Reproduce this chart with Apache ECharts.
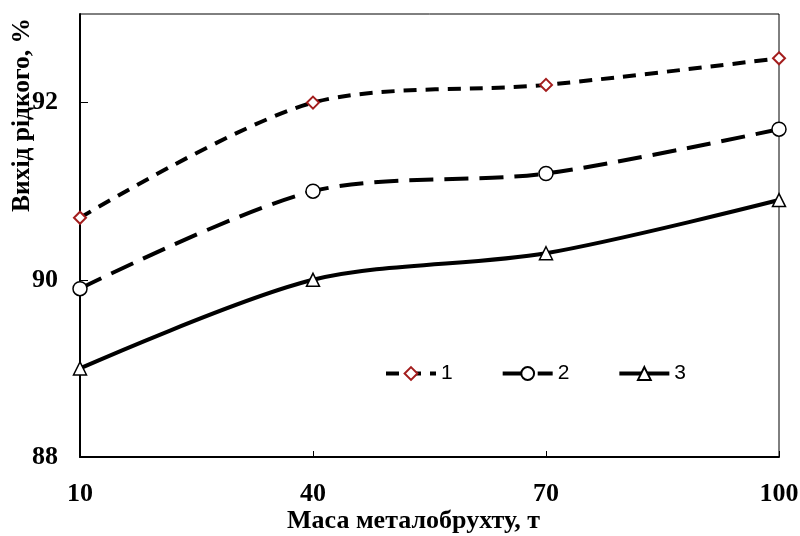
<!DOCTYPE html>
<html>
<head>
<meta charset="utf-8">
<script src="https://cdn.jsdelivr.net/npm/echarts@6/dist/echarts.min.js"></script>
<style>html,body{margin:0;padding:0;background:#fff}#c{width:800px;height:536px}</style>
</head>
<body>
<div id="c"></div>
<script>
var xValues = [10, 40, 70, 100];
var series1 = [90.7, 92.0, 92.2, 92.5];
var series2 = [89.9, 91.0, 91.2, 91.7];
var series3 = [89.0, 90.0, 90.3, 90.9];
var seriesNames = ['1', '2', '3'];
var yTickLabels = [88, 90, 92];
var xTickLabels = [10, 40, 70, 100];

function pairs(vals) { return xValues.map(function (x, i) { return [x, vals[i]]; }); }

var chart = echarts.init(document.getElementById('c'), null, {renderer: 'canvas'});
var serif = '"Liberation Serif", "Times New Roman", serif';
var dash1 = [13, 9], dash2 = [24, 11];
chart.setOption({
  animation: false,
  backgroundColor: '#fff',
  grid: {left: 80, right: 21, top: 14, bottom: 79, show: true, borderColor: '#000', borderWidth: 1,
         containLabel: false, outerBoundsMode: 'none'},
  xAxis: {
    type: 'value', min: 10, max: 100, interval: 30,
    axisLine: {show: true, lineStyle: {color: '#000', width: 2}},
    axisTick: {show: true, inside: true, length: 6, lineStyle: {color: '#000', width: 1}, customValues: xTickLabels},
    splitLine: {show: false},
    axisLabel: {
      margin: 24, color: '#000', fontFamily: serif, fontWeight: 'bold', fontSize: 26,
      customValues: xTickLabels, hideOverlap: false
    }
  },
  yAxis: {
    type: 'value', min: 88, max: 93, interval: 2,
    axisLine: {show: true, lineStyle: {color: '#000', width: 2}},
    axisTick: {show: true, inside: true, length: 8, lineStyle: {color: '#000', width: 1}, customValues: yTickLabels},
    splitLine: {show: false},
    axisLabel: {
      margin: 22, color: '#000', fontFamily: serif, fontWeight: 'bold', fontSize: 26,
      customValues: yTickLabels
    }
  },
  legend: {
    left: 379, top: 358, itemWidth: 50, itemHeight: 16, itemGap: 48,
    textStyle: {color: '#000', fontFamily: '"Liberation Sans", Arial, sans-serif', fontSize: 21},
    data: [
      {name: seriesNames[0], lineStyle: {color: '#000', width: 4, type: dash1}},
      {name: seriesNames[1], lineStyle: {color: '#000', width: 4, type: dash2}},
      {name: seriesNames[2], lineStyle: {color: '#000', width: 4, type: 'solid'}}
    ]
  },
  graphic: [
    {type: 'text', left: 9, top: 18, rotation: Math.PI / 2,
     style: {text: 'Вихід рідкого, %', fontFamily: serif, fontWeight: 'bold', fontSize: 25.5, fill: '#000'}},
    {type: 'text', left: 287, top: 508,
     style: {text: 'Маса металобрухту, т', fontFamily: serif, fontWeight: 'bold', fontSize: 26, fill: '#000'}}
  ],
  series: [
    {name: seriesNames[0], type: 'line', smooth: 0.3, data: pairs(series1),
     symbol: 'diamond', symbolSize: 12,
     lineStyle: {color: '#000', width: 4, type: dash1},
     itemStyle: {color: '#fff', borderColor: '#a31d1d', borderWidth: 2}},
    {name: seriesNames[1], type: 'line', smooth: 0.3, data: pairs(series2),
     symbol: 'circle', symbolSize: 14,
     lineStyle: {color: '#000', width: 4, type: dash2},
     itemStyle: {color: '#fff', borderColor: '#000', borderWidth: 1.5}},
    {name: seriesNames[2], type: 'line', smooth: 0.3, data: pairs(series3),
     symbol: 'triangle', symbolSize: 13,
     lineStyle: {color: '#000', width: 4, type: 'solid'},
     itemStyle: {color: '#fff', borderColor: '#000', borderWidth: 1.5}}
  ]
});
</script>
</body>
</html>
